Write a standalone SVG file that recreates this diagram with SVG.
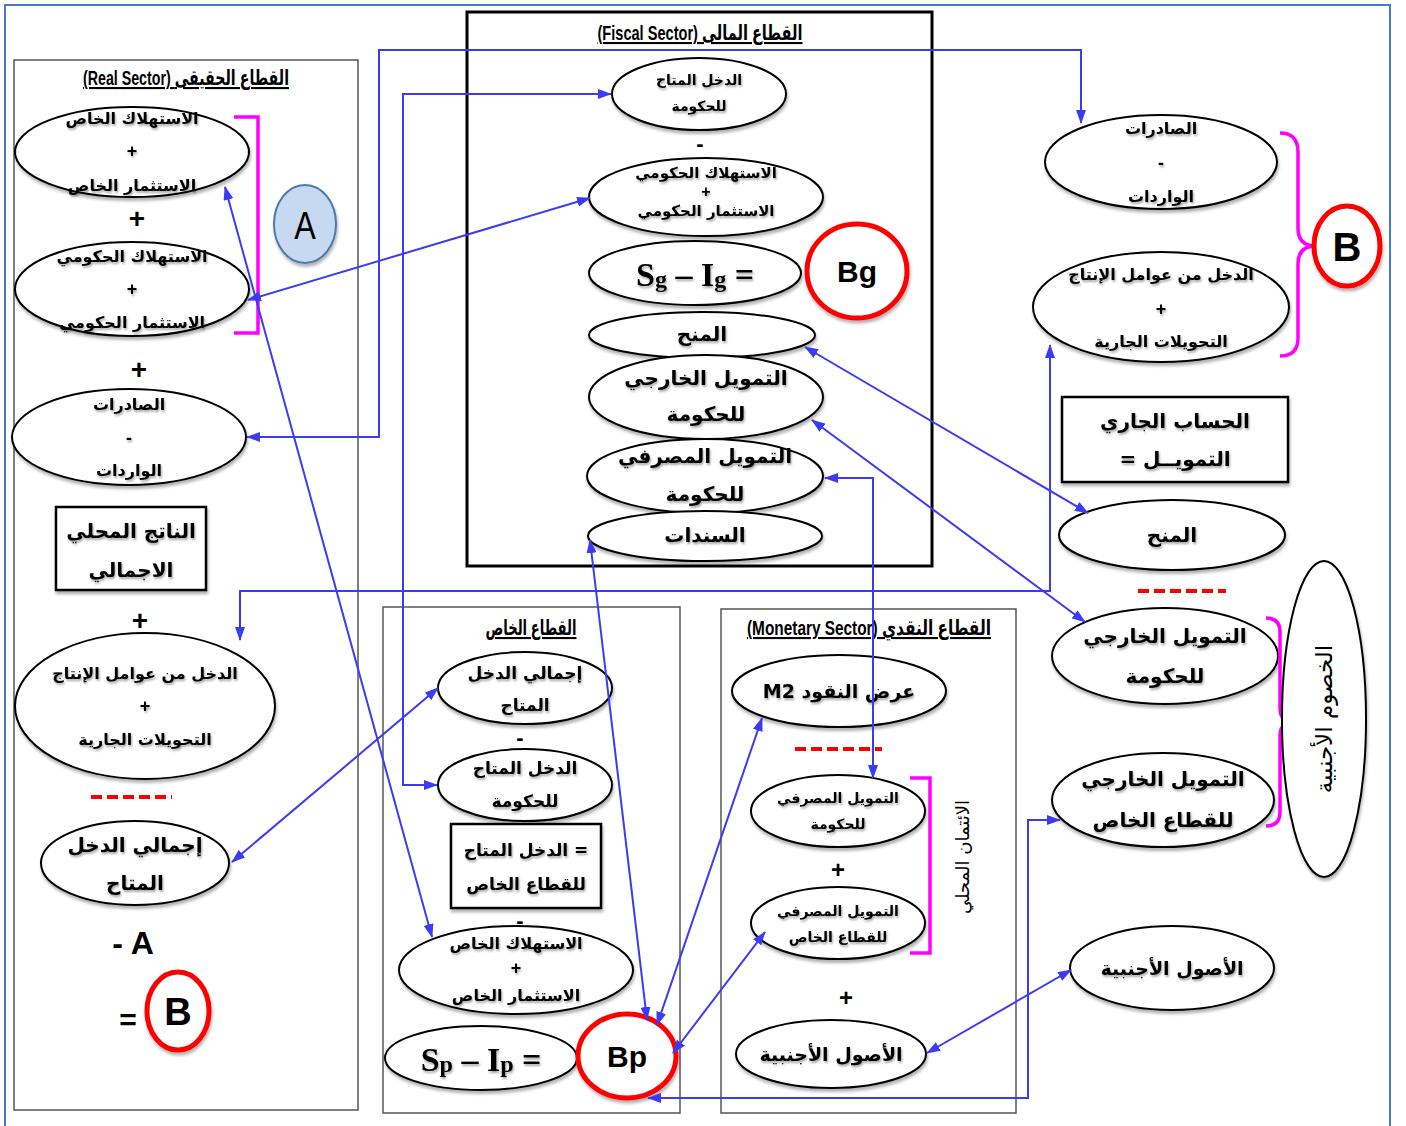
<svg xmlns="http://www.w3.org/2000/svg" width="1406" height="1126" viewBox="0 0 1406 1126">
<defs>
<filter id="sh" x="-10%" y="-10%" width="130%" height="140%">
<feDropShadow dx="1" dy="3" stdDeviation="1.5" flood-color="#000" flood-opacity="0.3"/>
</filter>
<filter id="tsh" x="-10%" y="-20%" width="130%" height="160%">
<feDropShadow dx="1" dy="2" stdDeviation="1" flood-color="#000" flood-opacity="0.35"/>
</filter>
<marker id="ah" viewBox="0 0 14 10" refX="13" refY="5" markerWidth="14" markerHeight="10" markerUnits="userSpaceOnUse" orient="auto-start-reverse">
<path d="M0,0 L14,5 L0,10 z" fill="#3b3bf5"/>
</marker>
<style>
.ar{font-family:"DejaVu Sans","Noto Sans",sans-serif;font-weight:bold;text-anchor:middle;dominant-baseline:central;fill:#000}
.vt{font-family:"DejaVu Sans","Noto Sans",sans-serif;font-weight:normal;text-anchor:middle;dominant-baseline:central;fill:#000}
.tt{font-family:"Liberation Sans Narrow","Liberation Sans","DejaVu Sans",sans-serif;font-weight:bold;font-size:21px;text-anchor:middle;text-decoration:underline;fill:#000}
.el{fill:#fff;stroke:#000;stroke-width:2;filter:url(#sh)}
.bx{fill:#fff;stroke:#000;stroke-width:2.5;filter:url(#sh)}
.sec{fill:none;stroke:#555;stroke-width:1.5}
.txt{filter:url(#tsh)}
.rc{fill:#fff;stroke:#ff0000;stroke-width:5;filter:url(#sh)}
.lt{font-family:"Liberation Sans",Arial,sans-serif;font-weight:bold;text-anchor:middle;dominant-baseline:central;fill:#000}
.sg{font-family:"Liberation Serif","Times New Roman",serif;font-weight:bold;text-anchor:middle;dominant-baseline:central;fill:#000}
.brk{fill:none;stroke:#ff00ff;stroke-width:3.5}
.dash{stroke:#ff0000;stroke-width:4;stroke-dasharray:11 5}
.conn{fill:none;stroke:#3b3bf5;stroke-width:2;marker-start:url(#ah);marker-end:url(#ah)}
.op{font-family:"Liberation Sans",Arial,sans-serif;font-weight:bold;text-anchor:middle;dominant-baseline:central;fill:#000}
</style>
</defs>
<rect width="1406" height="1126" fill="#fff"/>
<rect x="5" y="5" width="1385" height="1130" fill="none" stroke="#4a78d0" stroke-width="2"/>

<!-- Sector frames -->
<g id="real-sector">
<rect class="sec" x="14" y="60" width="344" height="1050"/>
<text class="tt" x="186" y="85" textLength="206" lengthAdjust="spacingAndGlyphs">(Real Sector) القطاع الحقيقى</text>
</g>
<g id="fiscal-sector">
<rect x="467" y="12" width="465" height="554" fill="none" stroke="#000" stroke-width="3"/>
<text class="tt" x="700" y="40" textLength="205" lengthAdjust="spacingAndGlyphs">(Fiscal Sector) القطاع المالى</text>
</g>
<g id="private-sector">
<rect class="sec" x="383" y="607" width="297" height="506"/>
<text class="tt" x="531" y="635" textLength="91" lengthAdjust="spacingAndGlyphs">القطاع الخاص</text>
</g>
<g id="monetary-sector">
<rect class="sec" x="721" y="609" width="295" height="504"/>
<text class="tt" x="869" y="635" textLength="244" lengthAdjust="spacingAndGlyphs">(Monetary Sector) القطاع النقدي</text>
</g>

<!-- Real sector nodes -->
<g id="r-private">
<ellipse class="el" cx="132" cy="152" rx="117" ry="45"/>
<g class="txt"><text class="ar" x="132" y="118" font-size="16">الاستهلاك الخاص</text>
<text class="op" x="132" y="151" font-size="18">+</text>
<text class="ar" x="132" y="185" font-size="16">الاستثمار الخاص</text></g>
</g>
<text class="op" x="137" y="218" font-size="28">+</text>
<g id="r-gov">
<ellipse class="el" cx="132" cy="289" rx="117" ry="47"/>
<g class="txt"><text class="ar" x="132" y="256" font-size="16">الاستهلاك الحكومي</text>
<text class="op" x="132" y="289" font-size="18">+</text>
<text class="ar" x="132" y="322" font-size="16">الاستثمار الحكومي</text></g>
</g>
<path class="brk" d="M234,117 H258 V333 H234"/>
<g id="a-circle">
<ellipse cx="305" cy="224" rx="31" ry="39" fill="#c6d9f1" stroke="#4a7ab0" stroke-width="2" filter="url(#sh)"/>
<text x="305" y="226" font-family="'Liberation Sans Narrow','Liberation Sans',sans-serif" font-size="38" text-anchor="middle" dominant-baseline="central" transform="translate(305 0) scale(0.85 1) translate(-305 0)">A</text>
</g>
<text class="op" x="139" y="369" font-size="28">+</text>
<g id="r-exports">
<ellipse class="el" cx="129" cy="437" rx="117" ry="48"/>
<g class="txt"><text class="ar" x="129" y="404" font-size="16">الصادرات</text>
<text class="op" x="129" y="438" font-size="18">-</text>
<text class="ar" x="129" y="470" font-size="16">الواردات</text></g>
</g>
<g id="r-gdp">
<rect class="bx" x="56" y="507" width="150" height="83"/>
<g class="txt"><text class="ar" x="131" y="531" font-size="20">الناتج المحلي</text>
<text class="ar" x="131" y="570" font-size="20">الاجمالي</text></g>
</g>
<text class="op" x="140" y="620" font-size="28">+</text>
<g id="r-factor-income">
<ellipse class="el" cx="145" cy="706" rx="130" ry="73"/>
<g class="txt"><text class="ar" x="145" y="673" font-size="16">الدخل من عوامل الإنتاج</text>
<text class="op" x="145" y="706" font-size="18">+</text>
<text class="ar" x="145" y="739" font-size="16">التحويلات الجارية</text></g>
</g>
<line class="dash" x1="91" y1="797" x2="172" y2="797"/>
<g id="r-disp-income">
<ellipse class="el" cx="135" cy="863" rx="94" ry="42"/>
<g class="txt"><text class="ar" x="135" y="845" font-size="20">إجمالي الدخل</text>
<text class="ar" x="135" y="883" font-size="20">المتاح</text></g>
</g>
<text class="lt" x="133" y="943" font-size="32">- A</text>
<g id="r-b">
<text class="lt" x="128" y="1019" font-size="30">=</text>
<ellipse class="rc" cx="178" cy="1011" rx="31" ry="39"/>
<text class="lt" x="178" y="1012" font-size="38">B</text>
</g>

<!-- Fiscal sector nodes -->
<g id="f-disp-income">
<ellipse class="el" cx="699" cy="94" rx="87" ry="36"/>
<g class="txt"><text class="ar" x="699" y="80" font-size="14">الدخل المتاح</text>
<text class="ar" x="699" y="106" font-size="14">للحكومة</text></g>
</g>
<text class="op" x="700" y="143" font-size="22">-</text>
<g id="f-gov-ci">
<ellipse class="el" cx="706" cy="197" rx="117" ry="39"/>
<g class="txt"><text class="ar" x="706" y="173" font-size="15">الاستهلاك الحكومي</text>
<text class="op" x="706" y="191" font-size="16">+</text>
<text class="ar" x="706" y="211" font-size="15">الاستثمار الحكومي</text></g>
</g>
<g id="f-sg-ig">
<ellipse class="el" cx="695" cy="273" rx="106" ry="32"/>
<text class="sg txt" x="695" y="274" font-size="34">S<tspan font-size="24" dy="5">g</tspan><tspan dy="-5"> – I</tspan><tspan font-size="24" dy="5">g</tspan><tspan dy="-5"> =</tspan></text>
</g>
<g id="f-bg">
<ellipse class="rc" cx="857" cy="271" rx="50" ry="47"/>
<text class="lt" x="857" y="271" font-size="30">Bg</text>
</g>
<g id="f-grants">
<ellipse class="el" cx="702" cy="335" rx="113" ry="23"/>
<text class="ar txt" x="702" y="334" font-size="20">المنح</text>
</g>
<g id="f-ext-fin">
<ellipse class="el" cx="706" cy="397" rx="117" ry="42"/>
<g class="txt"><text class="ar" x="706" y="378" font-size="20">التمويل الخارجي</text>
<text class="ar" x="706" y="414" font-size="20">للحكومة</text></g>
</g>
<g id="f-bank-fin">
<ellipse class="el" cx="705" cy="476" rx="118" ry="37"/>
<g class="txt"><text class="ar" x="705" y="456" font-size="20">التمويل المصرفي</text>
<text class="ar" x="705" y="494" font-size="20">للحكومة</text></g>
</g>
<g id="f-bonds">
<ellipse class="el" cx="705" cy="536" rx="117" ry="25"/>
<text class="ar txt" x="705" y="535" font-size="20">السندات</text>
</g>

<!-- Private sector nodes -->
<g id="p-disp-income">
<ellipse class="el" cx="525" cy="688" rx="87" ry="36"/>
<g class="txt"><text class="ar" x="525" y="673" font-size="17">إجمالي الدخل</text>
<text class="ar" x="525" y="705" font-size="17">المتاح</text></g>
</g>
<text class="op" x="520" y="737" font-size="22">-</text>
<g id="p-gov-income">
<ellipse class="el" cx="525" cy="785" rx="87" ry="36"/>
<g class="txt"><text class="ar" x="525" y="768" font-size="17">الدخل المتاح</text>
<text class="ar" x="525" y="801" font-size="17">للحكومة</text></g>
</g>
<g id="p-private-income">
<rect class="bx" x="451" y="824" width="150" height="84"/>
<g class="txt"><text class="ar" x="526" y="850" font-size="17">الدخل المتاح =</text>
<text class="ar" x="526" y="884" font-size="17">للقطاع الخاص</text></g>
</g>
<text class="op" x="520" y="920" font-size="22">-</text>
<g id="p-ci">
<ellipse class="el" cx="516" cy="970" rx="117" ry="44"/>
<g class="txt"><text class="ar" x="516" y="943" font-size="16">الاستهلاك الخاص</text>
<text class="op" x="516" y="968" font-size="18">+</text>
<text class="ar" x="516" y="995" font-size="16">الاستثمار الخاص</text></g>
</g>
<g id="p-sp-ip">
<ellipse class="el" cx="481" cy="1058" rx="96" ry="32"/>
<text class="sg txt" x="481" y="1059" font-size="34">S<tspan font-size="24" dy="5">p</tspan><tspan dy="-5"> – I</tspan><tspan font-size="24" dy="5">p</tspan><tspan dy="-5"> =</tspan></text>
</g>
<g id="p-bp">
<ellipse class="rc" cx="627" cy="1056" rx="49" ry="42"/>
<text class="lt" x="627" y="1056" font-size="30">Bp</text>
</g>

<!-- Monetary sector nodes -->
<g id="m-m2">
<ellipse class="el" cx="839" cy="691" rx="107" ry="36"/>
<text class="ar txt" x="839" y="691" font-size="19">M2 عرض النقود</text>
</g>
<line class="dash" x1="795" y1="749" x2="882" y2="749"/>
<g id="m-bank-gov">
<ellipse class="el" cx="838" cy="811" rx="87" ry="36"/>
<g class="txt"><text class="ar" x="838" y="798" font-size="14">التمويل المصرفي</text>
<text class="ar" x="838" y="824" font-size="14">للحكومة</text></g>
</g>
<text class="op" x="838" y="869" font-size="24">+</text>
<g id="m-bank-private">
<ellipse class="el" cx="838" cy="923" rx="87" ry="36"/>
<g class="txt"><text class="ar" x="838" y="911" font-size="14">التمويل المصرفي</text>
<text class="ar" x="838" y="937" font-size="14">للقطاع الخاص</text></g>
</g>
<path class="brk" d="M910,778 H930 V953 H910"/>
<text class="vt" x="962" y="857" font-size="18" transform="rotate(-90 962 857)">الائتمان المحلي</text>
<text class="op" x="846" y="997" font-size="24">+</text>
<g id="m-foreign-assets">
<ellipse class="el" cx="831" cy="1054" rx="95" ry="34"/>
<text class="ar txt" x="831" y="1054" font-size="19">الأصول الأجنبية</text>
</g>

<!-- Right column nodes -->
<g id="x-exports">
<ellipse class="el" cx="1161" cy="162" rx="116" ry="47"/>
<g class="txt"><text class="ar" x="1161" y="128" font-size="16">الصادرات</text>
<text class="op" x="1161" y="163" font-size="18">-</text>
<text class="ar" x="1161" y="196" font-size="16">الواردات</text></g>
</g>
<g id="x-factor-income">
<ellipse class="el" cx="1161" cy="307" rx="128" ry="55"/>
<g class="txt"><text class="ar" x="1161" y="274" font-size="16">الدخل من عوامل الإنتاج</text>
<text class="op" x="1161" y="309" font-size="18">+</text>
<text class="ar" x="1161" y="341" font-size="16">التحويلات الجارية</text></g>
</g>
<path class="brk" d="M1280,133 Q1298,133 1298,152 V228 Q1298,246 1316,246 Q1298,246 1298,264 V338 Q1298,356 1280,356"/>
<g id="x-b">
<ellipse class="rc" cx="1347" cy="246" rx="33" ry="40"/>
<text class="lt" x="1347" y="247" font-size="40">B</text>
</g>
<g id="x-current-account">
<rect class="bx" x="1062" y="397" width="226" height="85"/>
<g class="txt"><text class="ar" x="1175" y="421" font-size="20">الحساب الجاري</text>
<text class="ar" x="1175" y="459" font-size="20">= التمويــل</text></g>
</g>
<g id="x-grants">
<ellipse class="el" cx="1172" cy="535" rx="113" ry="35"/>
<text class="ar txt" x="1172" y="535" font-size="20">المنح</text>
</g>
<line class="dash" x1="1138" y1="591" x2="1226" y2="591"/>
<g id="x-ext-gov">
<ellipse class="el" cx="1165" cy="656" rx="113" ry="48"/>
<g class="txt"><text class="ar" x="1165" y="636" font-size="20">التمويل الخارجي</text>
<text class="ar" x="1165" y="676" font-size="20">للحكومة</text></g>
</g>
<g id="x-ext-private">
<ellipse class="el" cx="1163" cy="800" rx="111" ry="47"/>
<g class="txt"><text class="ar" x="1163" y="779" font-size="20">التمويل الخارجي</text>
<text class="ar" x="1163" y="820" font-size="20">للقطاع الخاص</text></g>
</g>
<path class="brk" d="M1266,618 Q1280,618 1280,632 V708 Q1280,722 1294,722 Q1280,722 1280,736 V812 Q1280,826 1266,826"/>
<g id="x-foreign-liab">
<ellipse class="el" cx="1324" cy="719" rx="42" ry="158"/>
<text class="vt" x="1324" y="719" font-size="23" transform="rotate(-90 1324 719)">الخصوم الأجنبية</text>
</g>
<g id="x-foreign-assets">
<ellipse class="el" cx="1172" cy="968" rx="102" ry="42"/>
<text class="ar txt" x="1172" y="968" font-size="19">الأصول الأجنبية</text>
</g>

<!-- Connectors -->
<g id="connectors">
<path class="conn" d="M247,437 H379 V50 H1081 V123"/>
<path class="conn" d="M611,94 H403 V785 H437"/>
<path class="conn" d="M248,300 L590,198"/>
<path class="conn" d="M225,187 L432,937"/>
<path class="conn" d="M240,640 V591 H1050 V345"/>
<path class="conn" d="M232,862 L438,688"/>
<path class="conn" d="M805,347 L1088,513"/>
<path class="conn" d="M812,420 L1085,622"/>
<path class="conn" d="M825,478 H873 V778"/>
<path class="conn" d="M590,540 L647,1020"/>
<path class="conn" d="M762,718 L657,1025"/>
<path class="conn" d="M765,932 L673,1053"/>
<path class="conn" d="M648,1098 H1028 V820 H1060"/>
<path class="conn" d="M927,1053 L1071,970"/>
</g>
</svg>
